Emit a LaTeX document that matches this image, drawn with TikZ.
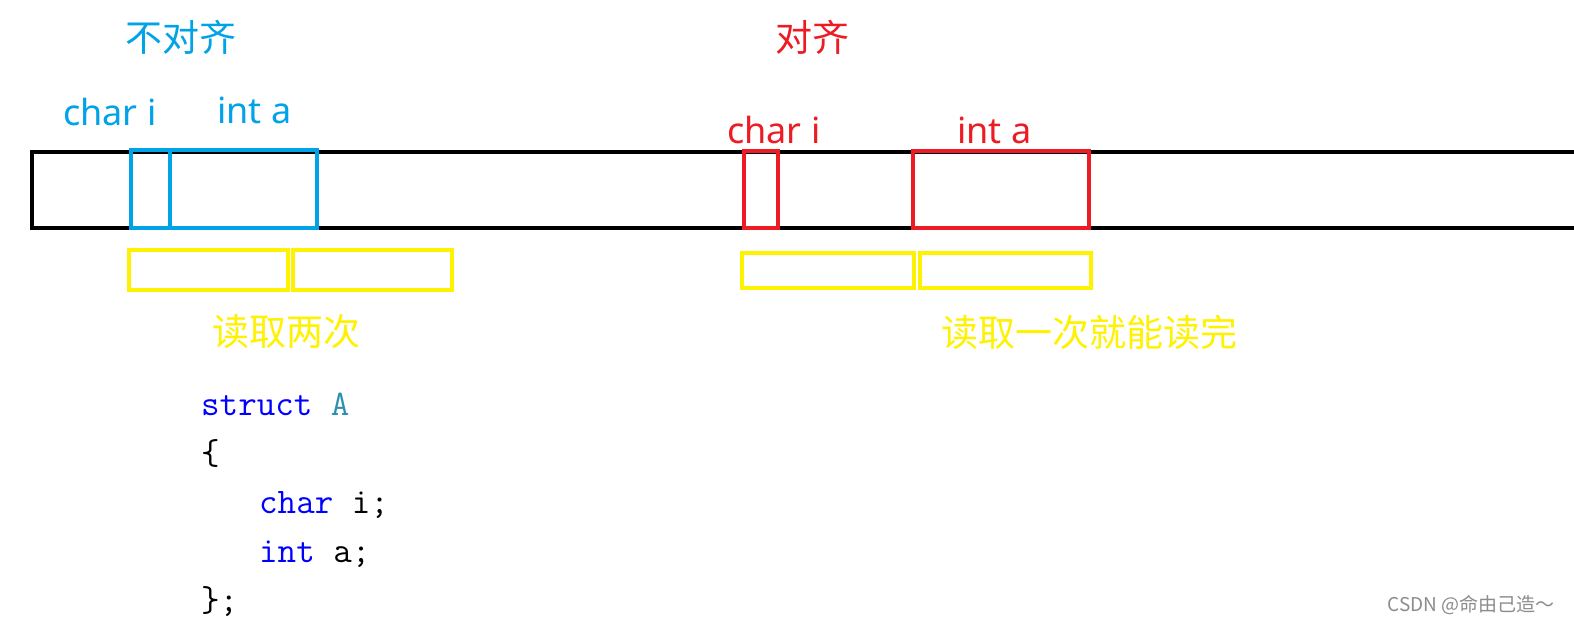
\documentclass[tikz,border=0pt]{standalone}
\usepackage{fontspec}
\setmainfont{Noto Sans}
\newfontfamily\cjk{Noto Sans CJK SC}
\definecolor{pblue}{RGB}{0,162,232}
\definecolor{pred}{RGB}{237,28,36}
\definecolor{pyellow}{RGB}{255,242,0}
\definecolor{kwblue}{RGB}{0,0,255}
\definecolor{tyteal}{RGB}{43,145,175}
\begin{document}
\begin{tikzpicture}[x=1pt,y=-1pt,
  cell/.style={draw,line width=4pt,inner sep=0pt,outer sep=0pt,rectangle},
  lbl/.style={inner sep=0pt,font=\fontsize{36}{40}\selectfont},
  cjklbl/.style={inner sep=0pt,font=\cjk\fontsize{37}{40}\selectfont},
  code/.style={inner sep=0pt,anchor=base west,font=\ttfamily\fontsize{36}{40}\selectfont}]
\useasboundingbox[fill=white] (0,0) rectangle (1574,625);
% memory strip
\coordinate (mtr) at (1590,152);
\coordinate (mbr) at (1590,228);
\coordinate (mtl) at (32,152);
\coordinate (mbl) at (32,228);
\draw[line width=4pt,line join=miter] (mtr) -- (mtl) -- (mbl) -- (mbr);
% unaligned
\node[cell,draw=pblue,minimum width=39pt,minimum height=78pt] (bc) at (150.5,189) {};
\node[cell,draw=pblue,minimum width=147pt,minimum height=78pt] (bi) at (243.5,189) {};
\node[cell,draw=pyellow,minimum width=159pt,minimum height=40pt] (y1) at (208.5,270) {};
\node[cell,draw=pyellow,minimum width=159pt,minimum height=40pt] (y2) at (372.5,270) {};
% aligned
\node[cell,draw=pred,minimum width=34pt,minimum height=77pt] (rc) at (761,189.5) {};
\node[cell,draw=pred,minimum width=176pt,minimum height=77pt] (ri) at (1001,189.5) {};
\node[cell,draw=pyellow,minimum width=172pt,minimum height=35pt] (y3) at (828,270.5) {};
\node[cell,draw=pyellow,minimum width=171pt,minimum height=35pt] (y4) at (1005.5,270.5) {};
% labels
\node[cjklbl,text=pblue] (t1) at (181,37) {不对齐};
\node[cjklbl,text=pred] (t2) at (812,37) {对齐};
\node[lbl,text=pblue,anchor=base west] (l1) at (63,125) {char i};
\node[lbl,text=pblue,anchor=base west] (l2) at (217,123) {int a};
\node[lbl,text=pred,anchor=base west] (l3) at (727,143) {char i};
\node[lbl,text=pred,anchor=base west] (l4) at (957,143) {int a};
\node[cjklbl,text=pyellow] (t3) at (286,332) {读取两次};
\node[cjklbl,text=pyellow] (t4) at (1089,332) {读取一次就能读完};
% code
\node[code] (c1) at (201,415) {\textcolor{kwblue}{struct} \textcolor{tyteal}{A}};
\node[code] (c2) at (201,464) {\{};
\node[code] (c3) at (259,513) {\textcolor{kwblue}{char} i;};
\node[code] (c4) at (259,562) {\textcolor{kwblue}{int} a;};
\node[code] (c5) at (201,611) {\};};
% watermark
\node[inner sep=0pt,text=black!45,font=\cjk\fontsize{19}{21}\selectfont] (wm) at (1471,605) {CSDN @命由己造～};
\end{tikzpicture}
\end{document}
